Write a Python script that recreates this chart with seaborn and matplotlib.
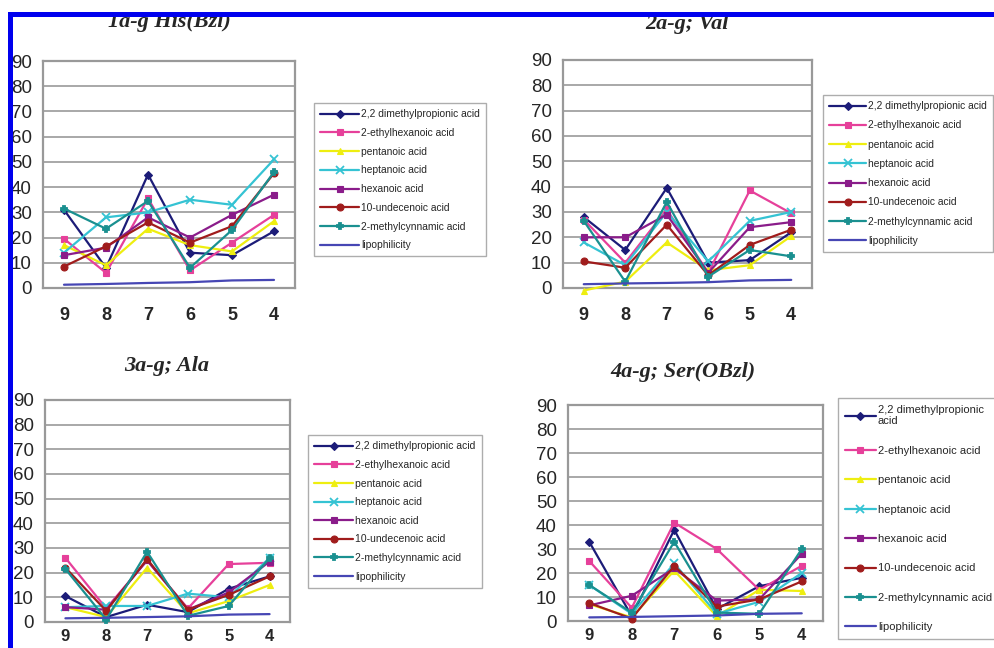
import numpy as np
import pandas as pd
import matplotlib
matplotlib.use("Agg")
import matplotlib.pyplot as plt
import seaborn as sns
from matplotlib.patches import Rectangle

categories = ["9", "8", "7", "6", "5", "4"]
series_names = ["2,2 dimethylpropionic acid", "2-ethylhexanoic acid", "pentanoic acid",
                "heptanoic acid", "hexanoic acid", "10-undecenoic acid",
                "2-methylcynnamic acid", "lipophilicity"]

titles = ["1a-g His(Bzl)", "2a-g; Val", "3a-g; Ala", "4a-g; Ser(OBzl)"]

his_values = [
    [31, 8, 45, 14, 13, 22.5],
    [19.5, 6, 35.5, 7, 18, 29],
    [17, 9, 23.5, 17, 14.5, 26.5],
    [14, 28, 30, 35, 33, 51],
    [13, 16, 28, 20, 29, 37],
    [8.5, 16.5, 26, 18, 24.5, 45.5],
    [31.5, 23.5, 34.5, 8, 23, 46],
    [1.3, 1.6, 2.0, 2.3, 3.0, 3.2],
]
val_values = [
    [28, 15, 39.5, 10, 11, 22],
    [27, 10, 31, 6, 38.5, 29.5],
    [-1, 2.5, 18, 7, 9, 20.5],
    [18, 9, 30, 10.5, 26.5, 30],
    [20, 20, 29, 6, 24, 26],
    [10.5, 8, 25, 5, 17, 23],
    [26.5, 2.5, 34, 4.5, 15, 12.5],
    [1.5, 1.8, 2.0, 2.3, 3.0, 3.2],
]
ala_values = [
    [10.5, 2, 7, 4, 13.5, 18.5],
    [26, 5.5, 25, 5.5, 23.5, 24],
    [6, 2, 22, 3.5, 8.5, 15],
    [6, 6.5, 6.5, 11.5, 10, 26],
    [6, 5, 25, 5, 12, 24.5],
    [22, 4.5, 25.5, 5, 11, 18.5],
    [21.5, 1, 28.5, 2.5, 6.5, 26],
    [1.5, 1.7, 2.0, 2.3, 3.0, 3.2],
]
ser_values = [
    [33, 2, 38, 5, 14.5, 18],
    [25, 5.5, 41, 30, 13, 23],
    [7, 1.5, 21, 2, 13, 12.5],
    [15, 3, 24, 3, 8, 20],
    [6.5, 10.5, 22, 8.5, 9, 28],
    [7.5, 1, 23, 6, 9, 16.5],
    [15, 3.5, 33, 3.5, 3, 30],
    [1.5, 1.7, 2.0, 2.3, 3.0, 3.2],
]
panels_values = [his_values, val_values, ala_values, ser_values]

colors = ["#1c1c78", "#e6409a", "#eeee10", "#35c3d3", "#8a1c8a", "#a01c1c", "#1a9090", "#4646b4"]
markers = ["D", "s", "^", "x", "s", "o", "P", None]
msizes = [4, 5, 5, 6, 5, 5, 5, 0]

W, H = 994, 648
sns.set_theme(style="white")
plt.rcParams["font.family"] = ["Liberation Sans", "DejaVu Sans"]

fig = plt.figure(figsize=(W / 100, H / 100), dpi=100)
fig.patch.set_facecolor("white")

# axes boxes in pixels: (left, top, right, bottom)
boxes = [(43, 61, 295, 288), (563, 60, 812, 288), (45, 400, 290, 622), (568, 405, 823, 621)]
title_pos = [(169, 22), (687, 24), (167, 366), (683, 372)]
legend_pos = [(314, 103), (823, 95), (308, 435), (838, 398)]
legend_font = [7.4, 7.4, 7.5, 8.0]
legend_spacing = [0.85, 0.9, 0.83, 1.75]
legend_handle = [3.8, 3.6, 3.7, 2.8]
xlabel_pad = [14, 14, 5, 5]
xlabel_size = [13, 13, 12, 12]

for p, (vals, box) in enumerate(zip(panels_values, boxes)):
    l, t, r, b = box
    ax = fig.add_axes([l / W, 1 - b / H, (r - l) / W, (b - t) / H])
    x = np.arange(len(categories))
    for i, name in enumerate(series_names):
        label = name
        if p == 3 and i == 0:
            label = "2,2 dimethylpropionic\nacid"
        df = pd.DataFrame({"x": x, "y": vals[i]})
        sns.lineplot(data=df, x="x", y="y", ax=ax, color=colors[i], marker=markers[i],
                     markersize=msizes[i], markeredgecolor=colors[i],
                     markeredgewidth=1.3 if markers[i] in ("x", "P") else 0.8,
                     linewidth=1.6, label=label, clip_on=False, zorder=3 + i)
    ax.set_xlim(-0.5, len(categories) - 0.5)
    ax.set_ylim(0, 90)
    ax.set_yticks(np.arange(0, 91, 10))
    ax.set_xticks(np.arange(-0.5, len(categories)), minor=False)
    ax.set_xticklabels([])
    ax.set_xticks(x, minor=True)
    ax.set_xticklabels(categories, minor=True, fontweight="bold", fontsize=xlabel_size[p])
    ax.tick_params(axis="x", which="minor", length=0, pad=xlabel_pad[p])
    ax.tick_params(axis="x", which="major", length=5, width=1.2, color="#888888", direction="out")
    ax.tick_params(axis="y", length=5, width=1.2, color="#888888", direction="out", labelsize=13.5, pad=3)
    ax.set_xlabel("")
    ax.set_ylabel("")
    ax.yaxis.grid(True, color="#999999", linewidth=1.2)
    ax.set_axisbelow(True)
    for s in ax.spines.values():
        s.set_color("#999999")
        s.set_linewidth(1.6)
    tx, ty = title_pos[p]
    fig.text(tx / W, 1 - ty / H, titles[p], ha="center", va="center",
             fontsize=16, fontweight="bold", fontstyle="italic",
             family=["Liberation Serif", "DejaVu Serif"])
    lx, ly = legend_pos[p]
    leg = ax.legend(loc="upper left", bbox_to_anchor=(lx / W, 1 - ly / H),
                    bbox_transform=fig.transFigure, borderaxespad=0, fontsize=legend_font[p],
                    frameon=True, fancybox=False, edgecolor="#999999",
                    labelspacing=legend_spacing[p], handlelength=legend_handle[p],
                    handletextpad=0.2, borderpad=0.6)
    leg.get_frame().set_linewidth(1.0)

# blue border of the scanned figure
fig.add_artist(Rectangle((10 / W, 1 - 17 / H), 1, 5 / H, transform=fig.transFigure,
                         facecolor="#0000ee", edgecolor="none", zorder=100))
fig.add_artist(Rectangle((8 / W, 0), 5 / W, 1 - 12 / H, transform=fig.transFigure,
                         facecolor="#0000ee", edgecolor="none", zorder=100))
fig.add_artist(Rectangle((0, 0), 8 / W, 1, transform=fig.transFigure,
                         facecolor="white", edgecolor="none", zorder=99))
fig.add_artist(Rectangle((0, 1 - 12 / H), 1, 12 / H, transform=fig.transFigure,
                         facecolor="white", edgecolor="none", zorder=99))

fig.savefig("out.png", dpi=100)
